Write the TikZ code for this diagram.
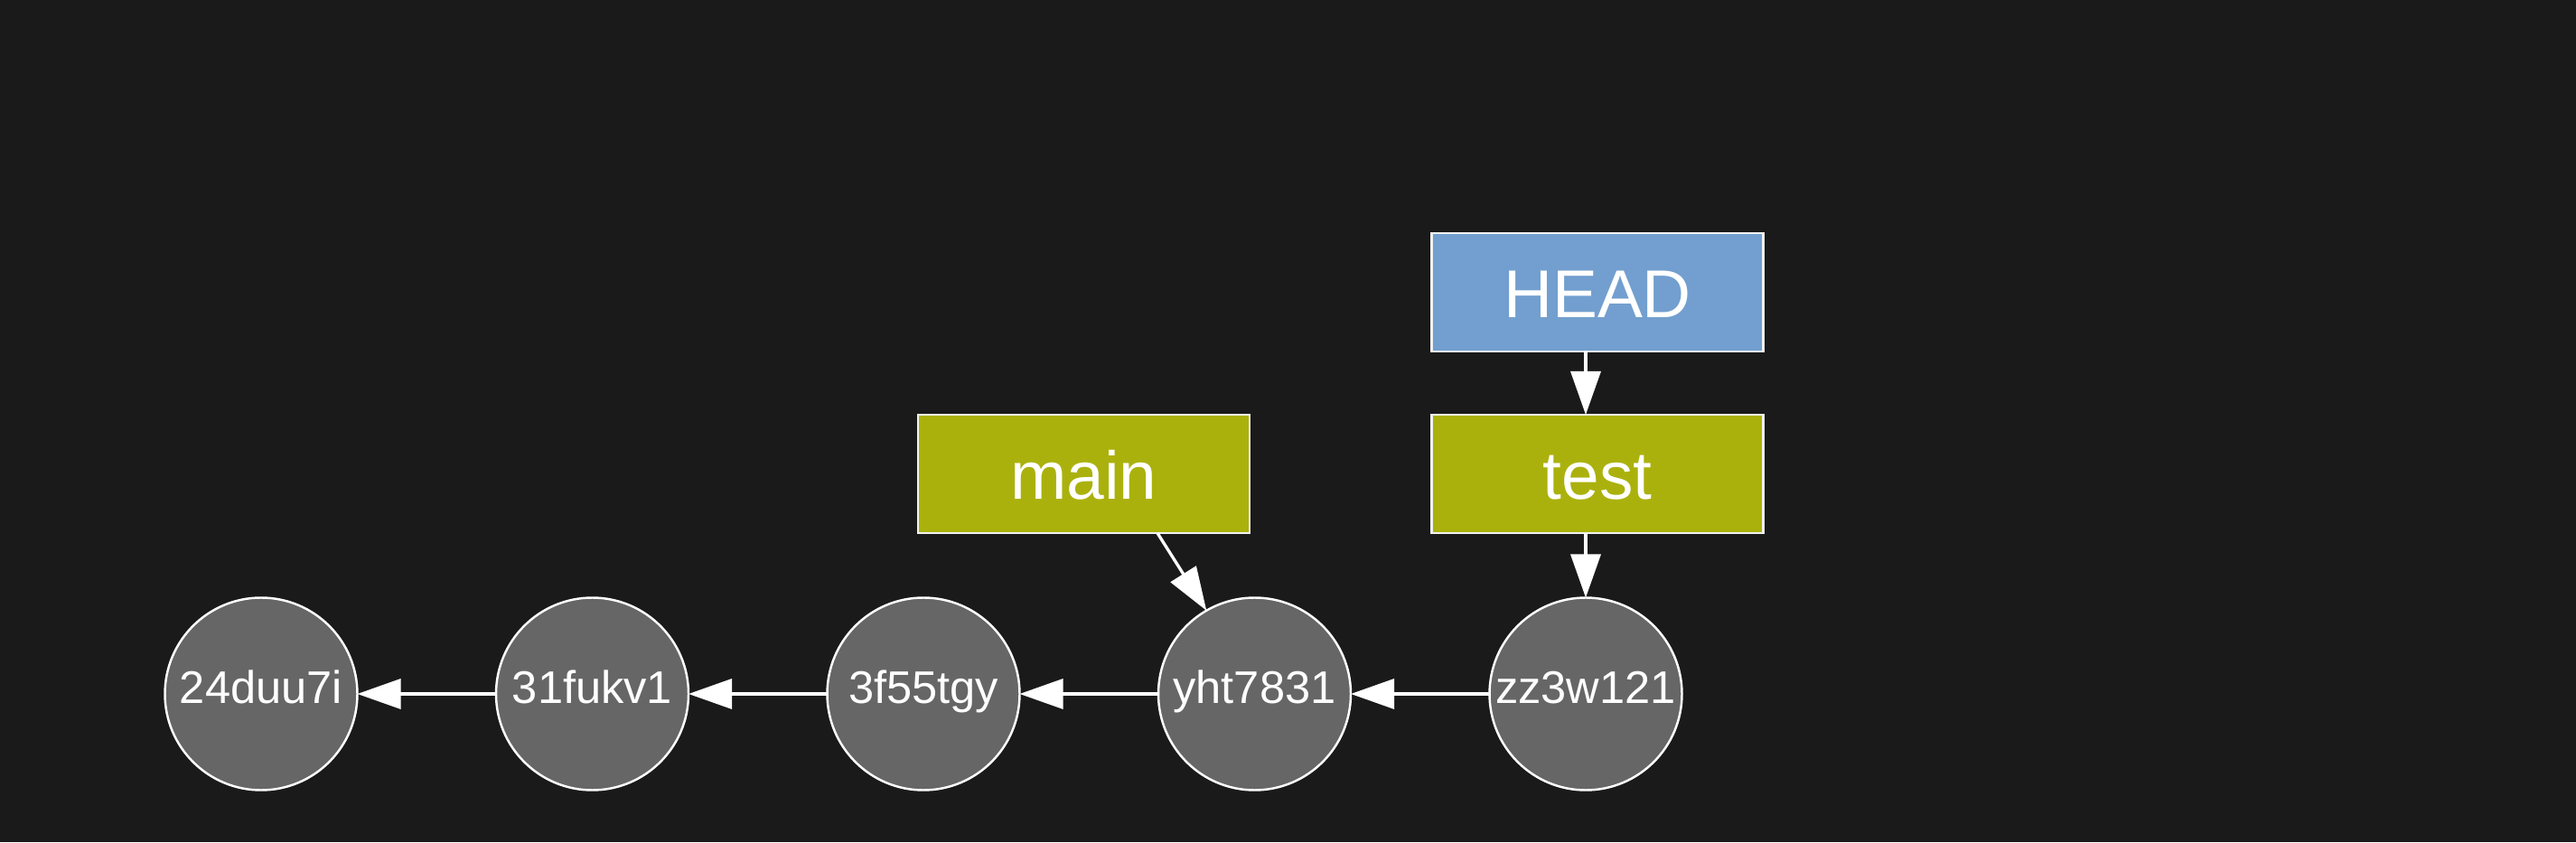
\documentclass[tikz,border=0pt]{standalone}
\usepackage{xcolor}
\usepackage{fontspec}
\setmainfont{Liberation Sans}
\usepackage{tikz}
\usetikzlibrary{arrows.meta, positioning, calc}
\definecolor{bgdark}{HTML}{1A1A1A}
\definecolor{commitgray}{HTML}{666666}
\definecolor{branchlime}{HTML}{ABB10C}
\definecolor{headblue}{HTML}{729FCF}

\begin{document}
\begin{tikzpicture}[
    commit/.style={circle, draw=white, line width=0.7pt, fill=commitgray, minimum size=2.13cm, inner sep=0pt, outer sep=0pt, text=white, text height=0.36cm, text depth=0.14cm, font=\fontsize{14.4}{16}\selectfont},
    refbox/.style={rectangle, draw=white!90!gray, line width=0.7pt, minimum width=3.67cm, minimum height=1.31cm, inner sep=0pt, outer sep=0pt, text=white, text height=0.77cm, text depth=0.2cm, font=\fontsize{21.3}{24}\selectfont},
    edge/.style={-{Triangle[length=0.48cm, width=0.33cm]}, line width=0.95pt, white}
]
    % Background
    \fill[bgdark] (0,0) rectangle (28.51,9.32);
    \useasboundingbox (0,0) rectangle (28.51,9.32);

    % Commits
    \node[commit] (c1) at (2.89,1.64) {24duu7i};
    \node[commit, right=1.535cm of c1] (c2) {31fukv1};
    \node[commit, right=1.535cm of c2] (c3) {3f55tgy};
    \node[commit, right=1.535cm of c3] (c4) {yht7831};
    \node[commit, right=1.535cm of c4] (c5) {zz3w121};

    % Branches and HEAD
    \node[refbox, fill=branchlime] (main) at (11.995,4.075) {main};
    \node[refbox, fill=branchlime] (test) at (17.68,4.075) {test};
    \node[refbox, fill=headblue, above=0.7cm of test] (head) {HEAD};

    % Parent links
    \draw[edge] (c2) -- (c1);
    \draw[edge] (c3) -- (c2);
    \draw[edge] (c4) -- (c3);
    \draw[edge] (c5) -- (c4);

    % Pointers
    \draw[edge] ($(main.south east)+(-1.02,0)$) -- (c4.120);
    \draw[edge] (head.south -| c5.north) -- (test.north -| c5.north);
    \draw[edge] (test.south -| c5.north) -- (c5.north);
\end{tikzpicture}
\end{document}
